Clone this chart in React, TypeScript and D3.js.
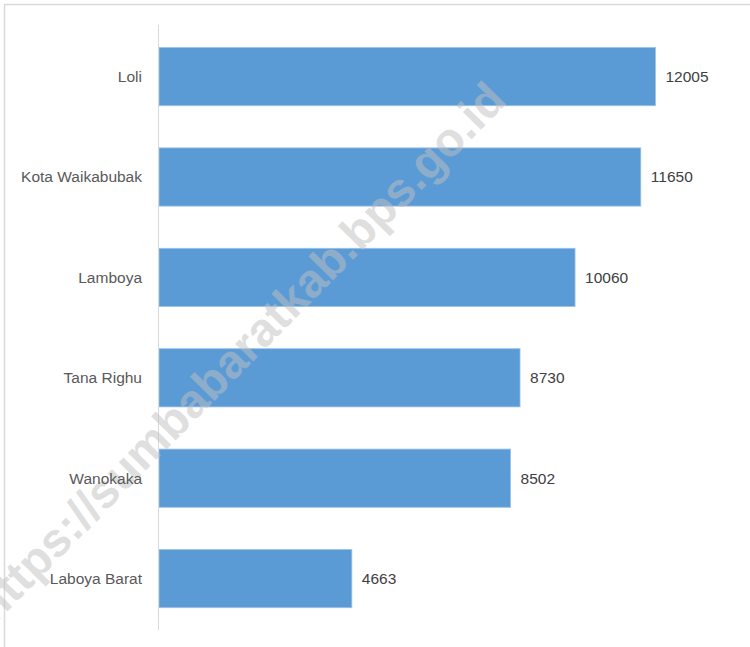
import React from "react";
import * as d3 from "d3";

const categories = ["Loli", "Kota Waikabubak", "Lamboya", "Tana Righu", "Wanokaka", "Laboya Barat"];
const values = [12005, 11650, 10060, 8730, 8502, 4663];
const watermark = "https://sumbabaratkab.bps.go.id";

const W = 750;
const H = 647;

export default function App() {
  const x = d3.scaleLinear().domain([0, 14000]).range([159, 159 + 579]);
  const y = d3.scaleBand<string>().domain(categories).range([26.4, 628.8]).paddingInner(0.42).paddingOuter(0.21);
  const font = "'Liberation Sans', Arial, sans-serif";
  return (
    <svg width={W} height={H} style={{ position: "absolute", left: 0, top: 0, display: "block" }}>
      <rect x={0} y={0} width={W} height={H} fill="#fff" />
      <rect x={4.5} y={4.5} width={W + 10} height={H + 10} fill="none" stroke="#d9d9d9" strokeWidth={1.5} />
      {categories.map((c, i) => (
        <rect
          key={c}
          x={x(0)}
          y={y(c)!}
          width={x(values[i]) - x(0)}
          height={y.bandwidth()}
          fill="#5b9bd5"
          stroke="#9cc2e8"
          strokeWidth={0.8}
        />
      ))}
      <line x1={158.5} x2={158.5} y1={25} y2={630} stroke="#d9d9d9" strokeWidth={1} />
      <text
        x={0}
        y={0}
        transform={`translate(508,102) rotate(-45.5)`}
        textAnchor="end"
        fontFamily={font}
        fontWeight="bold"
        fontSize={47.5}
        fill="#c0c0c0"
        fillOpacity={0.5}
      >
        {watermark}
      </text>
      {categories.map((c, i) => (
        <g key={c}>
          <text
            x={142}
            y={y(c)! + y.bandwidth() / 2}
            dy="0.35em"
            textAnchor="end"
            fontFamily={font}
            fontSize={15.5}
            fill="#595959"
          >
            {c}
          </text>
          <text
            x={x(values[i]) + 10}
            y={y(c)! + y.bandwidth() / 2}
            dy="0.35em"
            fontFamily={font}
            fontSize={15.5}
            fill="#404040"
          >
            {values[i]}
          </text>
        </g>
      ))}
    </svg>
  );
}
